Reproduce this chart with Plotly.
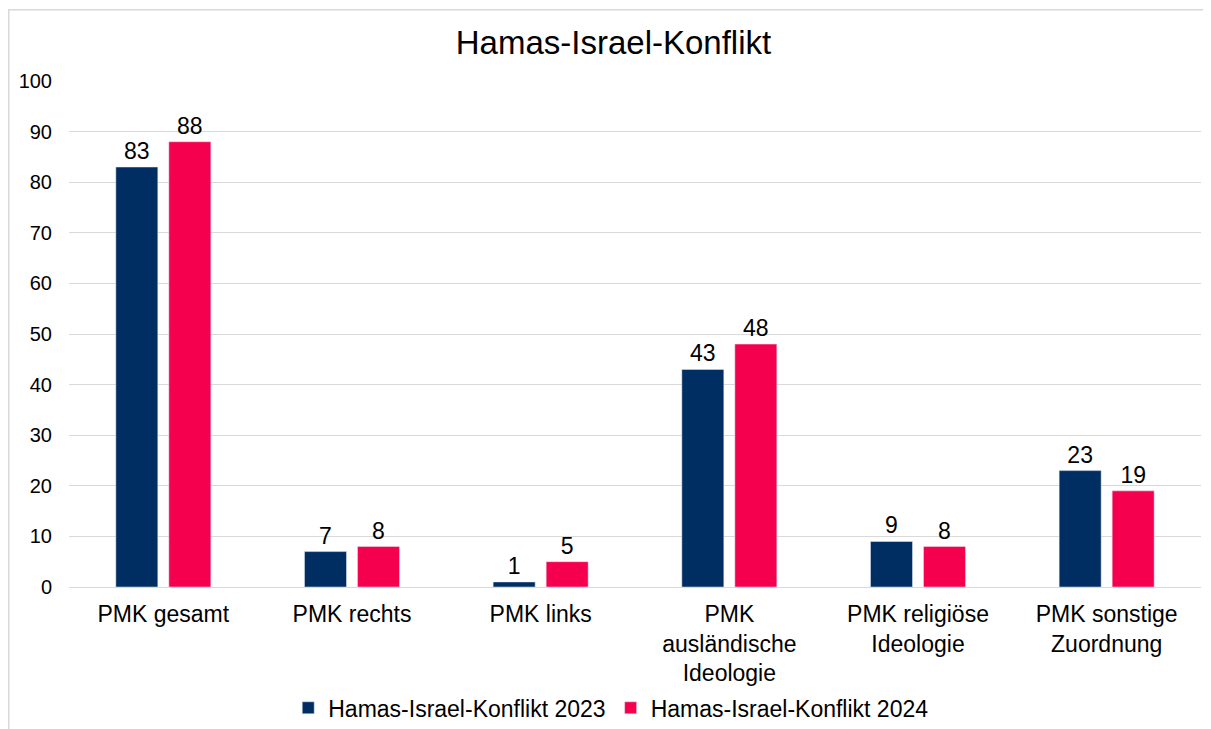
import plotly.graph_objects as go

categories = [
    "PMK gesamt",
    "PMK rechts",
    "PMK links",
    "PMK<br>ausländische<br>Ideologie",
    "PMK religiöse<br>Ideologie",
    "PMK sonstige<br>Zuordnung",
]
values_2023 = [83, 7, 1, 43, 9, 23]
values_2024 = [88, 8, 5, 48, 8, 19]
y_ticks = [0, 10, 20, 30, 40, 50, 60, 70, 80, 90, 100]

NAVY = "#002D62"
PINK = "#F5004F"
FONT = "Liberation Sans, Arial, sans-serif"

fig = go.Figure()
fig.add_trace(go.Bar(
    x=categories, y=values_2023,
    name="Hamas-Israel-Konflikt 2023",
    marker_color=NAVY,
    text=values_2023, textposition="outside",
    textfont=dict(size=23, color="#000"),
    cliponaxis=False,
))
fig.add_trace(go.Bar(
    x=categories, y=values_2024,
    name="Hamas-Israel-Konflikt 2024",
    marker_color=PINK,
    text=values_2024, textposition="outside",
    textfont=dict(size=23, color="#000"),
    cliponaxis=False,
))

# outer chart border (Excel-style frame)
fig.add_shape(
    type="rect", xref="paper", yref="paper",
    x0=-0.0532, x1=1.02, y0=-0.40, y1=1.141,
    line=dict(color="#D9D9D9", width=1.5),
    fillcolor="rgba(0,0,0,0)", layer="below",
)

fig.update_layout(
    width=1211, height=729,
    margin=dict(l=61, r=18, t=73, b=150, autoexpand=False),
    paper_bgcolor="white", plot_bgcolor="white",
    font=dict(family=FONT, size=23, color="#000"),
    title=dict(
        text="Hamas-Israel-Konflikt",
        x=0.5, xanchor="center", y=0.953, yanchor="middle",
        font=dict(size=33, color="#000"),
    ),
    barmode="group",
    bargap=0.438,
    bargroupgap=0.2075,
    showlegend=True,
    legend=dict(
        orientation="h", x=0.479, xanchor="center",
        yref="container", y=0.040, yanchor="middle",
        font=dict(size=23), traceorder="normal",
        itemwidth=30,
    ),
)
fig.update_xaxes(
    showgrid=False, showline=True, linecolor="#D9D9D9", linewidth=1,
    tickfont=dict(size=23), ticks="", ticklabelstandoff=6,
    automargin=False,
)
fig.update_yaxes(
    range=[0, 100], tickvals=y_ticks,
    showgrid=True, gridcolor="#D9D9D9", gridwidth=1,
    zeroline=False, showline=False,
    tickfont=dict(size=20), ticklabelstandoff=16,
    automargin=False,
)

fig.write_html("out.html")
